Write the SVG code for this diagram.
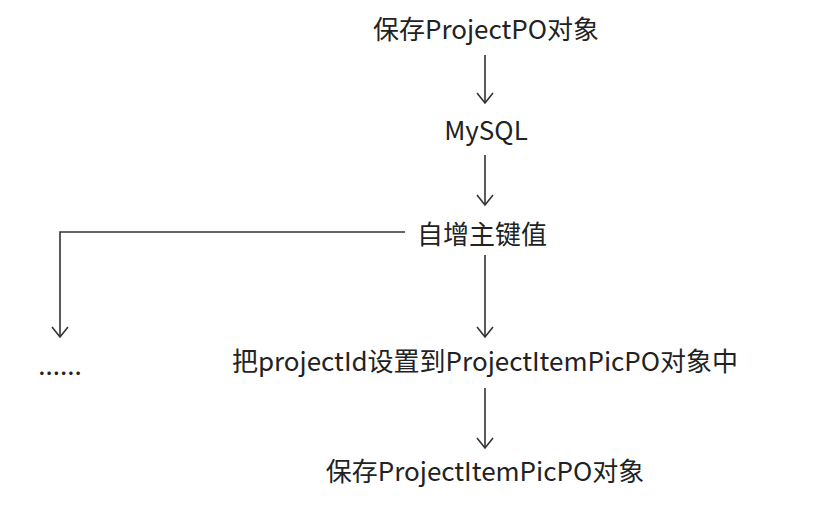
<svg xmlns="http://www.w3.org/2000/svg" width="840" height="510" viewBox="0 0 840 510">
<style>
text{font-family:"Noto Sans CJK SC","Noto Sans",sans-serif;font-size:26px;fill:#222;text-anchor:middle;dominant-baseline:central}
.c{fill:none;stroke:#333;stroke-width:1.6}
</style>
<defs>
<marker id="a" viewBox="0 0 20 20" refX="18" refY="10" markerWidth="20" markerHeight="20" markerUnits="userSpaceOnUse" orient="auto">
<path d="M8 2 L18 10 L8 18" fill="none" stroke="#333" stroke-width="1.6"/>
</marker>
</defs>
<rect width="840" height="510" fill="#fff"/>
<g id="n1"><text x="486" y="27">保存ProjectPO对象</text></g>
<g id="n2"><text x="486" y="128">MySQL</text></g>
<g id="n3"><text x="482" y="232">自增主键值</text></g>
<g id="n4"><text x="60" y="363">......</text></g>
<g id="n5"><text x="485" y="359">把projectId设置到ProjectItemPicPO对象中</text></g>
<g id="n6"><text x="485" y="469">保存ProjectItemPicPO对象</text></g>
<g id="connectors">
<path class="c" d="M485 55 V103" marker-end="url(#a)"/>
<path class="c" d="M485 155 V205" marker-end="url(#a)"/>
<path class="c" d="M405 232 H60 V337" marker-end="url(#a)"/>
<path class="c" d="M485 255 V337" marker-end="url(#a)"/>
<path class="c" d="M485 388 V448" marker-end="url(#a)"/>
</g>
</svg>
